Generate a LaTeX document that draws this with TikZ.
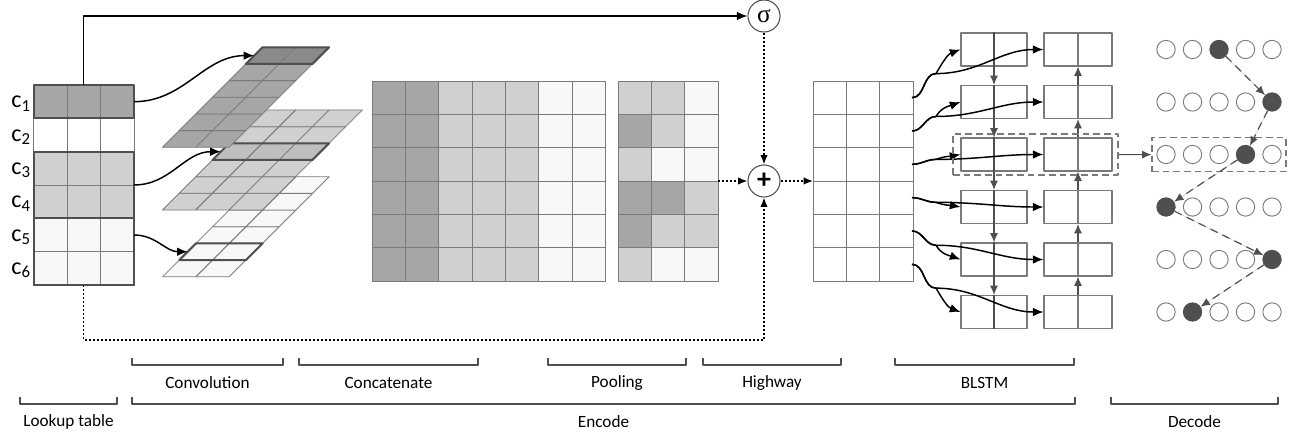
\documentclass[tikz,border=0pt]{standalone}
\usepackage{fontspec}
\setmainfont{Carlito}
\newfontfamily\sigfont{Liberation Serif}
\usetikzlibrary{arrows.meta,calc}
\definecolor{dk}{HTML}{A6A6A6}
\definecolor{md}{HTML}{D0D0D0}
\definecolor{lt}{HTML}{F8F8F8}
\definecolor{hla}{HTML}{8A8A8A}
\definecolor{hlb}{HTML}{BFBFBF}
\definecolor{ln}{HTML}{4F4F4F}
\definecolor{gr}{HTML}{7A7A7A}
\tikzset{
  cell/.style={draw=gr, line width=0.6pt},
  grp/.style={draw=ln, line width=1.5pt},
  hlbox/.style={draw=ln, line width=1.5pt},
  arr/.style={-{Latex[length=8pt,width=6.5pt]}, line width=1.1pt},
  dotarr/.style={-{Latex[length=7pt,width=5.5pt]}, line width=1pt, dash pattern=on 1.5pt off 1.5pt},
  varr/.style={-{Latex[length=7pt,width=6pt]}, draw=ln, fill=ln, line width=0.8pt},
  darr/.style={-{Latex[length=7pt,width=6pt]}, draw=ln, fill=ln, line width=0.9pt, dash pattern=on 6pt off 4pt},
  op/.style={circle, draw=ln, line width=0.8pt, minimum size=24pt, inner sep=0pt, fill=white},
  box/.style={rectangle, draw=gr, line width=0.8pt, minimum height=24.75pt, inner sep=0pt},
  ring/.style={circle, draw=gr, line width=0.7pt, minimum size=13.75pt, inner sep=0pt},
  dot/.style={ring, draw=ln, fill=ln},
  frame/.style={rectangle, draw=gr, line width=0.8pt, dash pattern=on 5pt off 3pt, inner sep=0pt},
  brk/.style={draw=ln, line width=0.9pt},
  lab/.style={inner sep=1pt},
  clab/.style={inner sep=0pt, anchor=east, font=\fontsize{18}{20}\selectfont}
}
% one slanted feature map: x0, y0, columns, fill, highlighted row, its fill, name
\newcommand{\convlayer}[7]{%
  \foreach \j in {0,...,5}{
    \ifnum\j=#5 \def\fc{#6}\else\def\fc{#4}\fi
    \foreach \k in {1,...,#3}
      \draw[cell, fill=\fc] ({#1+\j*\s+(\k-1)*\cw},{#2-\j*\s}) -- ++(\cw,0) -- ++(\s,-\s) -- ++(-\cw,0) -- cycle;
  }
  \draw[hlbox] ({#1+#5*\s},{#2-#5*\s}) -- ++(#3*\cw,0) -- ++(\s,-\s) -- ++(-#3*\cw,0) -- cycle;
  \coordinate (#7) at ({#1+#5*\s+\s/2},{#2-#5*\s-\s/2});
}
\begin{document}
\begin{tikzpicture}[x=0.75pt,y=-0.75pt, line join=round, font=\fontsize{12.9}{15}\selectfont]
	\useasboundingbox (0,0) rectangle (1298,436);
	\def\lx{33.5} \def\ly{85} \def\w{33.5} \def\h{33.33} % lookup table
	\def\s{16.67} \def\cw{33.3} % feature maps
	% lookup table
	\foreach \r/\c in {1/dk,2/white,3/md,4/md,5/lt,6/lt}{
		\foreach \k in {0,1,2}
		\draw[cell, fill=\c] ({\lx+\k*\w},{\ly+(\r-1)*\h}) rectangle ++(\w,\h);
		\node[clab] (c\r) at (31,{\ly+(\r-0.5)*\h+2}) {c\textsubscript{\r}};
	}
	\draw[grp] (\lx,\ly) rectangle ++(3*\w,\h);
	\draw[grp] (\lx,{\ly+2*\h}) rectangle ++(3*\w,2*\h);
	\draw[grp] (\lx,{\ly+4*\h}) rectangle ++(3*\w,2*\h);
	\coordinate (lt) at ({\lx+1.5*\w},\ly);
	\coordinate (lb) at ({\lx+1.5*\w},{\ly+6*\h});
	\coordinate (o1) at ({\lx+3*\w},{\ly+0.5*\h});
	\coordinate (o3) at ({\lx+3*\w},{\ly+3*\h});
	\coordinate (o5) at ({\lx+3*\w},{\ly+4.5*\h});
	% convolution
	\convlayer{162.7}{276.7}{2}{lt}{1}{lt}{cv3}
	\convlayer{162.5}{210}{3}{md}{3}{hlb}{cv2}
	\convlayer{162.5}{147.3}{2}{dk}{5}{hla}{cv1}
	\draw[arr] (o1) to[out=0,in=180] (cv1);
	\draw[arr] (o3) to[out=0,in=180] (cv2);
	\draw[arr] (o5) to[out=0,in=180] (cv3);
	% concatenate
	\foreach \k/\c in {0/dk,1/dk,2/md,3/md,4/md,5/lt,6/lt}
	\foreach \r in {0,...,5}
	\draw[cell, fill=\c] ({372+\k*\h},{81+\r*\h}) rectangle ++(\h,\h);
	% pooling
	\foreach \r/\a/\b/\c in {0/md/md/lt,1/dk/md/lt,2/md/lt/lt,3/dk/dk/md,4/dk/md/md,5/md/lt/lt}{
		\draw[cell, fill=\a] (618,{81+\r*\h}) rectangle ++(\h,\h);
		\draw[cell, fill=\b] ({618+\h},{81+\r*\h}) rectangle ++(\h,\h);
		\draw[cell, fill=\c] ({618+2*\h},{81+\r*\h}) rectangle ++(\h,\h);
	}
	\coordinate (pool) at (718,181);
	% highway
	\foreach \k in {0,1,2}
	\foreach \r in {0,...,5}
	\draw[cell, fill=white] ({813+\k*\h},{81+\r*\h}) rectangle ++(\h,\h);
	\coordinate (hwin) at (813,181);
	\node[op] (sig) at (764,16) {\sigfont\fontsize{19}{20}\selectfont σ};
	\node[op] (plus) at (764,181) {\fontsize{21}{22}\selectfont\textbf{+}};
	\coordinate (lbc) at (764,340);
	\draw[arr] (lt) |- (sig);
	\draw[dotarr] (sig) -- (plus);
	\draw[dotarr] (pool) -- (plus);
	\draw[dotarr] (plus) -- (hwin);
	\draw[dotarr] (lb) |- (lbc) -- (plus);
	% BLSTM
	\foreach \i in {1,...,6}{
		\pgfmathsetmacro\yy{49.5+(\i-1)*52.5}
		\pgfmathsetmacro\hy{81+(\i-0.5)*33.33}
		\node[box, minimum width=49.5pt] (f\i) at (994,\yy) {};
		\node[box, minimum width=51pt] (b\i) at (1078,\yy) {};
		\draw[ln, line width=0.8pt] (f\i.north) -- (f\i.south);
		\draw[gr, line width=0.8pt] (b\i.north) -- (b\i.south);
		\coordinate (hw\i) at (912,\hy);
		\coordinate (p\i) at (936,{(\hy+\yy)/2});
	}
	\foreach \i/\oa/\ia in {1/60/200,2/60/200,3/20/190,4/-20/170,5/-60/160,6/-60/160}{
		\draw[arr] (hw\i) to[out=0,in=180] (p\i) to[out=\oa,in=\ia] (f\i.west);
		\draw[arr] (hw\i) to[out=0,in=180] (p\i) to[out=0,in=180] (b\i.west);
	}
	\foreach \i/\j in {1/2,2/3,3/4,4/5,5/6}{
		\draw[varr] (f\i.south) -- (f\j.north);
		\draw[varr] (b\j.north) -- (b\i.south);
	}
	\node[frame, minimum width=123.75pt, minimum height=30.75pt] (brow) at (1035.5,154.5) {};
	% decode
	\foreach \i/\t in {1/3,2/5,3/4,4/1,5/5,6/2}{
		\pgfmathsetmacro\yy{49.5+(\i-1)*52.5}
		\foreach \k in {1,...,5}{
			\ifnum\k=\t \def\st{dot}\else\def\st{ring}\fi
			\node[\st] (d\i\k) at ({1166+(\k-1)*26.5},\yy) {};
		}
	}
	\node[frame, minimum width=100.5pt, minimum height=25.5pt] (drow) at (1219,154.7) {};
	\draw[varr] (brow) -- (drow);
	\foreach \a/\b in {13/25,25/34,34/41,41/55,55/62}
	\draw[darr] (d\a) -- (d\b);
	% brackets and labels
	\foreach \a/\b/\t in {132/283/Convolution,299/478/Concatenate,548/686/Pooling,703/841/Highway,895/1074/BLSTM}{
		\draw[brk] (\a,358) -- (\a,365) -- (\b,365) -- (\b,358);
		\node[lab] (n-\t) at ({(\a+\b)/2},383) {\t};
	}
	\foreach \a/\b/\t in {20/117/Lookup table,132/1075/Encode,1111/1278/Decode}{
		\draw[brk] (\a,397) -- (\a,404) -- (\b,404) -- (\b,397);
		\node[lab] (n-\t) at ({(\a+\b)/2},422) {\t};
	}
\end{tikzpicture}
\end{document}
